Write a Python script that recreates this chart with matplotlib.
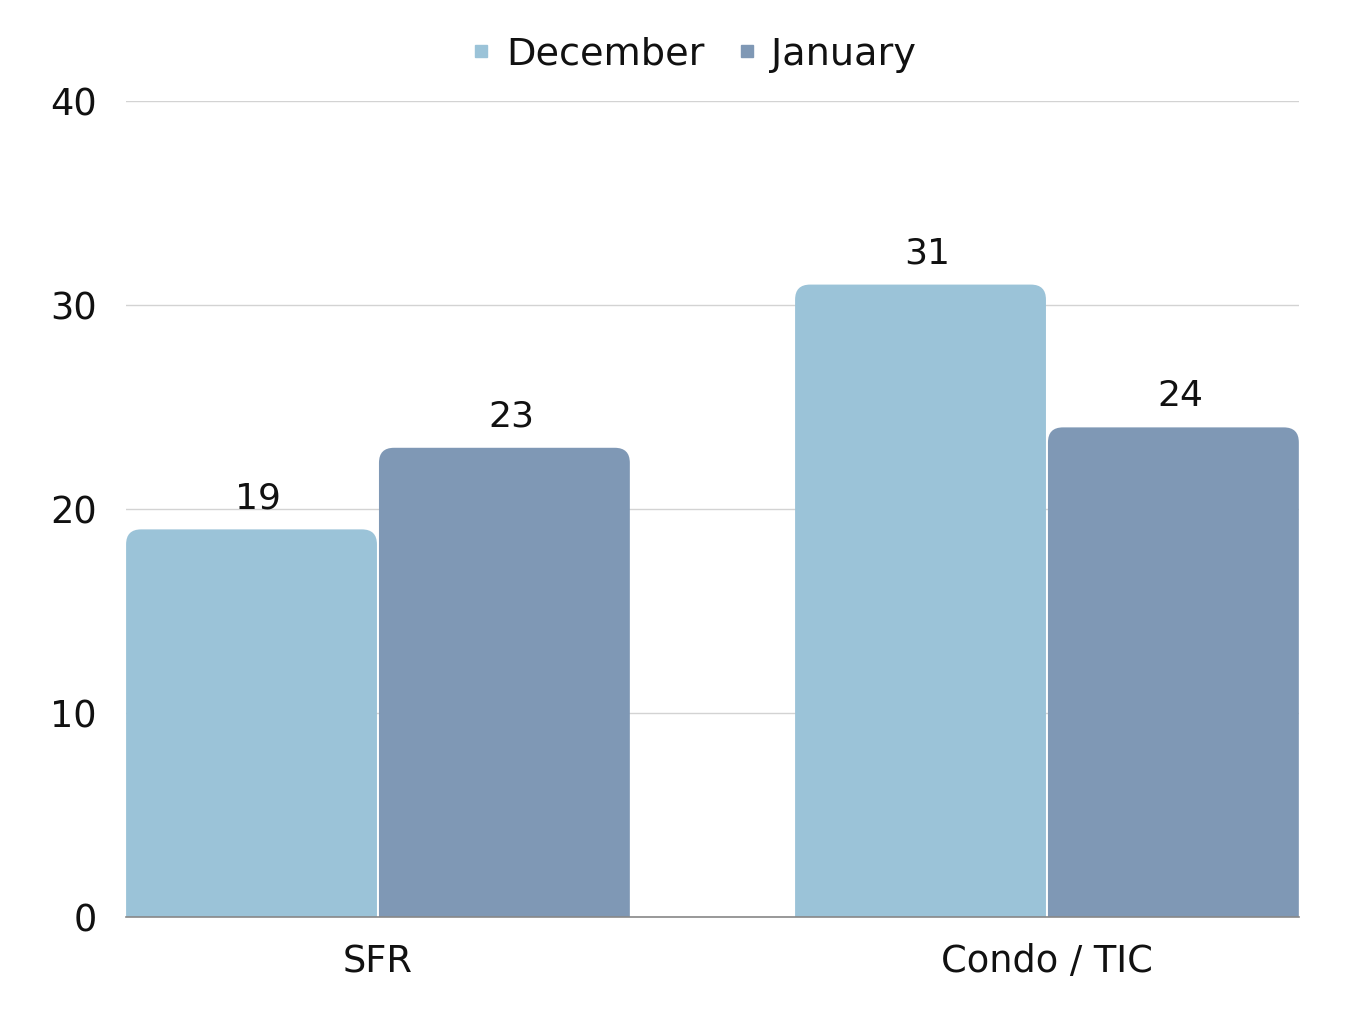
import numpy as np
import matplotlib.pyplot as plt
from matplotlib.patches import FancyBboxPatch
from matplotlib.lines import Line2D

plt.rcParams["font.family"] = ["DejaVu Sans"]

categories = ["SFR", "Condo / TIC"]
december = [19, 31]
january = [23, 24]
series_names = ["December", "January"]
colors = ["#9BC3D8", "#7F98B5"]
text_color = "#111111"

fig = plt.figure(figsize=(13.5, 10.13), dpi=100)
ax = fig.add_axes([0.0933, 0.0948, 0.8689, 0.8055])

x = np.arange(len(categories))
width = 0.375
gap = 0.0015
ax.set_xlim(-0.3767, 1.3767)
ax.set_ylim(0, 40)

bars_dec = ax.bar(x - width / 2 - gap, december, width, color=colors[0])
bars_jan = ax.bar(x + width / 2 + gap, january, width, color=colors[1])

fig.canvas.draw()
# pixels per data unit, so the round corners come out the same size in px
px_x = ax.transData.transform((1, 0))[0] - ax.transData.transform((0, 0))[0]
px_y = ax.transData.transform((0, 1))[1] - ax.transData.transform((0, 0))[1]
radius_px = 15
rx = radius_px / px_x
ry = radius_px / px_y

for bars, col in [(bars_dec, colors[0]), (bars_jan, colors[1])]:
    for b in bars:
        bx, bw, bh = b.get_x(), b.get_width(), b.get_height()
        b.remove()
        patch = FancyBboxPatch((bx, -ry), bw, bh + ry,
                               boxstyle=f"round,pad=0,rounding_size={rx}",
                               mutation_aspect=ry / rx,
                               facecolor=col, edgecolor="none", zorder=2)
        ax.add_patch(patch)
        ax.text(bx + bw / 2 + 0.01, bh + 0.7, f"{bh:.0f}", ha="center",
                va="bottom", fontsize=26, color=text_color, zorder=3)

ax.set_yticks([0, 10, 20, 30, 40])
ax.set_xticks(x)
ax.set_xticklabels(categories)
ax.tick_params(axis="both", length=0, labelsize=26.5, colors=text_color)
ax.tick_params(axis="y", pad=21)
ax.tick_params(axis="x", pad=19)
ax.grid(axis="y", color="#D3D3D3", linewidth=1)
ax.set_axisbelow(True)
for s in ["top", "right", "left"]:
    ax.spines[s].set_visible(False)
ax.spines["bottom"].set_color("#888888")
ax.spines["bottom"].set_linewidth(1.2)
ax.spines["bottom"].set_zorder(4)

handles = [Line2D([], [], marker="s", linestyle="none", markersize=9,
                  markerfacecolor=c, markeredgecolor=c) for c in colors]
fig.legend(handles, series_names, loc="center", bbox_to_anchor=(0.512, 0.946),
           ncol=2, frameon=False, fontsize=27.5, handletextpad=0.25,
           columnspacing=0.7, handlelength=0.8, labelcolor=text_color)

fig.savefig("out.png", dpi=100)
